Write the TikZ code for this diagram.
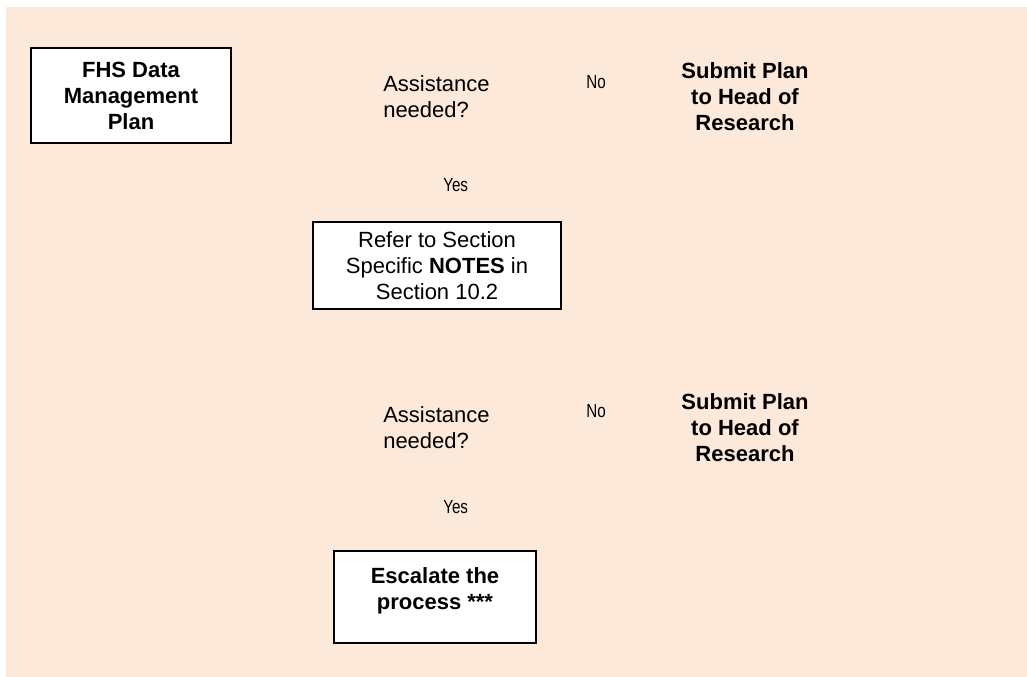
\documentclass[tikz,border=0pt]{standalone}
\usepackage{fontspec}
\setmainfont{Liberation Sans}
\usepackage{graphicx}
\usepackage{tikz}
\usetikzlibrary{positioning}
\definecolor{peach}{RGB}{253,233,218}
\newcommand{\bodyfont}{\fontsize{16.5}{19.5}\selectfont}
\newcommand{\narrowtext}[1]{\scalebox{0.8}[1]{#1}}
\tikzstyle{stepbox}=[draw=black, line width=1pt, fill=white, align=center, inner sep=0pt]
\tikzstyle{question}=[align=left, anchor=base west, inner sep=0pt, font=\bodyfont]
\tikzstyle{answer}=[anchor=base west, inner sep=0pt, font=\fontsize{14.25}{17}\selectfont]
\tikzstyle{target}=[align=center, anchor=base, inner sep=0pt, font=\bodyfont\bfseries]

\begin{document}
\begin{tikzpicture}[x=0.75pt, y=-0.75pt, font=\bodyfont]
    % Page and background
    \useasboundingbox (0,0) rectangle (1027,677);
    \fill[peach] (6,7) rectangle (1027,677);

    % Start
    \node[stepbox, minimum width=150pt, minimum height=71.25pt, font=\bodyfont\bfseries] (plan) at (131,95.5) {FHS Data\\Management\\Plan};

    % First check (base = last line)
    \node[question] (ask1) at (383,118) {Assistance\\needed?};
    \node[answer] (no1) at (586,89) {\narrowtext{No}};
    \node[target] (submit1) at (745,131) {Submit Plan\\to Head of\\Research};
    \node[answer] (yes1) at (443,192) {\narrowtext{Yes}};

    % Notes
    \node[stepbox, minimum width=186pt, minimum height=65.25pt] (notes) at (437,265.5) {Refer to Section\\Specific \textbf{NOTES} in\\Section 10.2};

    % Second check
    \node[question] (ask2) at (383,448) {Assistance\\needed?};
    \node[answer] (no2) at (586,417) {\narrowtext{No}};
    \node[target] (submit2) at (745,461) {Submit Plan\\to Head of\\Research};
    \node[answer] (yes2) at (443,513) {\narrowtext{Yes}};

    % Escalation
    \node[stepbox, minimum width=151.5pt, minimum height=69pt, text depth=13pt, font=\bodyfont\bfseries] (escalate) at (435,597) {Escalate the\\process ***};
\end{tikzpicture}
\end{document}
